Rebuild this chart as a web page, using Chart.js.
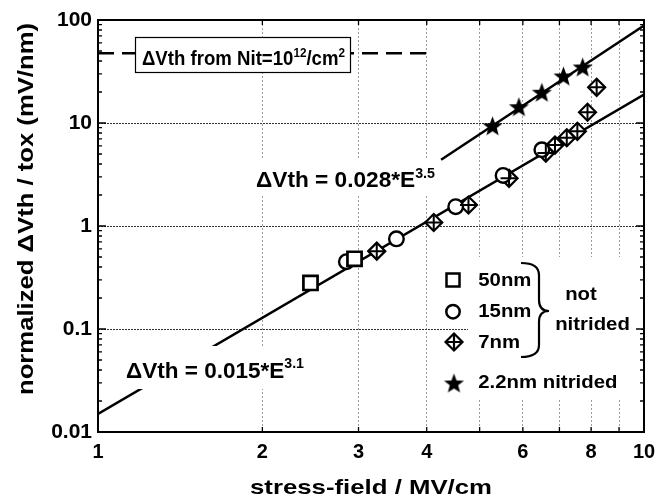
<!DOCTYPE html>
<html>
<head>
<meta charset="utf-8">
<script src="https://cdn.jsdelivr.net/npm/chart.js@4/dist/chart.umd.min.js"></script>
<style>
  body { margin: 0; background: #fff; }
  canvas { display: block; }
</style>
</head>
<body>
<canvas id="c" width="670" height="499"></canvas>
<script>
// ---- data (stress field MV/cm, dVth/tox mV/nm) ----
var sq50X = [2.45, 2.95];
var sq50Y = [0.28, 0.48];
var c15X = [2.85, 3.52, 4.52, 5.52, 6.5];
var c15Y = [0.45, 0.75, 1.54, 3.1, 5.5];
var d7X = [3.24, 4.12, 4.77, 5.66, 6.61, 6.87, 7.22, 7.55, 7.88, 8.19];
var d7Y = [0.57, 1.08, 1.6, 2.9, 5.1, 6.1, 7.2, 8.3, 12.7, 22.2];
var n22X = [5.28, 5.9, 6.5, 7.12, 7.72];
var n22Y = [9.4, 14.4, 19.9, 28.6, 35];
// fit lines (end points) and Nit reference level
var fitAX = [1, 10];
var fitAY = [0.015, 18.9];
var fitBX = [4.25, 10];
var fitBY = [4.4, 88.5];
var nitX = [1, 4.02];
var nitY = [47.5, 47.5];
// tick labels
var xTickLabels = [1, 2, 3, 4, 6, 8, 10];
var yTickLabels = [0.01, 0.1, 1, 10, 100];

var FONT = '"Liberation Sans", Arial, sans-serif';

function pts(xs, ys) {
  return xs.map(function (x, i) { return {x: x, y: ys[i]}; });
}

// filled five point star
function makeStar(R) {
  var s = Math.ceil(2 * R + 4);
  var cv = document.createElement('canvas');
  cv.width = s; cv.height = s;
  var g = cv.getContext('2d');
  var c = s / 2, r = R * 0.42;
  g.fillStyle = '#000';
  g.beginPath();
  for (var i = 0; i < 10; i++) {
    var a = -Math.PI / 2 + i * Math.PI / 5;
    var rr = i % 2 ? r : R;
    var px = c + rr * Math.cos(a), py = c + 1 + rr * Math.sin(a);
    if (i === 0) g.moveTo(px, py); else g.lineTo(px, py);
  }
  g.closePath(); g.fill();
  return cv;
}

var starImg = makeStar(10.5);

// text with optional superscripts, stretched to a width
function richText(ctx, parts, x, y, size, opts) {
  opts = opts || {};
  var fnt = function (s) { return 'bold ' + s + 'px ' + FONT; };
  var w = 0;
  parts.forEach(function (p) {
    ctx.font = fnt(p[1] ? size * 0.63 : size);
    w += ctx.measureText(p[0]).width;
  });
  var sx = opts.width ? opts.width / w : (opts.sx || 1);
  ctx.save();
  ctx.translate(x, y);
  if (opts.rotate) ctx.rotate(opts.rotate);
  ctx.scale(sx, 1);
  var cx = opts.align === 'center' ? -w / 2 : 0;
  ctx.fillStyle = '#000';
  ctx.textBaseline = 'alphabetic';
  ctx.textAlign = 'left';
  parts.forEach(function (p) {
    var s = p[1] ? size * 0.63 : size;
    ctx.font = fnt(s);
    ctx.fillText(p[0], cx, p[1] ? -size * 0.41 : 0);
    cx += ctx.measureText(p[0]).width;
  });
  ctx.restore();
}

function isDecade(v) {
  var l = Math.log10(v);
  return Math.abs(l - Math.round(l)) < 1e-6;
}

var decor = {
  id: 'decor',
  afterDatasetsDraw: function (chart) {
    var ctx = chart.ctx;
    var a = chart.chartArea;
    var xs = chart.scales.x, ys = chart.scales.y;
    ctx.save();
    // white backgrounds
    ctx.fillStyle = '#fff';
    ctx.fillRect(250, 158, 190, 37);
    ctx.fillRect(120, 346, 190, 43);
    ctx.fillRect(468, 257, 172, 143);
    ctx.fillRect(135, 37, 215, 35);
    ctx.lineWidth = 1.2; ctx.strokeStyle = '#000';
    ctx.strokeRect(135.5, 37.5, 215, 35);

    richText(ctx, [['\u0394Vth from Nit=10'], ['12', 1], ['/cm'], ['2', 1]], 142, 64.5, 19.5, {width: 203});
    richText(ctx, [['\u0394Vth = 0.028*E'], ['3.5', 1]], 256, 187.3, 22.5, {width: 179});
    richText(ctx, [['\u0394Vth = 0.015*E'], ['3.1', 1]], 126, 377.7, 22.5, {width: 178});

    // legend
    ctx.lineWidth = 2.5; ctx.strokeStyle = '#000'; ctx.fillStyle = '#fff';
    ctx.fillRect(446.5, 273.5, 13, 13); ctx.strokeRect(446.5, 273.5, 13, 13);
    ctx.beginPath(); ctx.arc(453, 311.7, 6.7, 0, Math.PI * 2); ctx.fill(); ctx.stroke();
    ctx.lineWidth = 2.2;
    ctx.beginPath();
    ctx.moveTo(454, 333.5); ctx.lineTo(462.5, 342); ctx.lineTo(454, 350.5); ctx.lineTo(445.5, 342); ctx.closePath();
    ctx.fill(); ctx.stroke();
    ctx.beginPath();
    ctx.moveTo(445.5, 342); ctx.lineTo(462.5, 342); ctx.moveTo(454, 333.5); ctx.lineTo(454, 350.5);
    ctx.stroke();
    ctx.drawImage(starImg, 454 - starImg.width / 2, 383 - starImg.height / 2);
    richText(ctx, [['50nm']], 478.3, 286, 18.5, {sx: 1.1});
    richText(ctx, [['15nm']], 478.3, 316.7, 18.5, {sx: 1.1});
    richText(ctx, [['7nm']], 478.3, 348.3, 18.5, {sx: 1.1});
    richText(ctx, [['2.2nm nitrided']], 478.3, 388.3, 18.5, {sx: 1.1});
    richText(ctx, [['not']], 581, 300, 18.5, {sx: 1.1, align: 'center'});
    richText(ctx, [['nitrided']], 592.5, 330, 18.5, {sx: 1.1, align: 'center'});
    // brace
    ctx.lineWidth = 2.2;
    ctx.beginPath();
    ctx.moveTo(521, 263);
    ctx.quadraticCurveTo(539, 263, 539, 275);
    ctx.lineTo(539, 300);
    ctx.quadraticCurveTo(539, 311, 549, 311);
    ctx.quadraticCurveTo(539, 311, 539, 322);
    ctx.lineTo(539, 345);
    ctx.quadraticCurveTo(539, 357, 521, 357);
    ctx.stroke();

    // axis titles
    richText(ctx, [['stress-field / MV/cm']], 371, 494, 20.5, {width: 242, align: 'center'});
    richText(ctx, [['normalized \u0394Vth / tox (mV/nm)']], 33, 209, 22.5, {width: 372, align: 'center', rotate: -Math.PI / 2});

    // frame and inward ticks
    ctx.strokeStyle = '#000';
    ctx.lineWidth = 2;
    ctx.strokeRect(a.left, a.top, a.right - a.left, a.bottom - a.top);
    ctx.lineWidth = 1.3;
    ctx.beginPath();
    for (var m = 2; m <= 9; m++) {
      var px = xs.getPixelForValue(m);
      ctx.moveTo(px, a.bottom); ctx.lineTo(px, a.bottom - 5);
      ctx.moveTo(px, a.top); ctx.lineTo(px, a.top + 5);
    }
    for (var d = 0.01; d < 99; d *= 10) {
      for (var k = 1; k <= 9; k++) {
        var py = ys.getPixelForValue(d * k);
        var len = k === 1 ? 8 : 4;
        ctx.moveTo(a.left, py); ctx.lineTo(a.left + len, py);
        ctx.moveTo(a.right, py); ctx.lineTo(a.right - len, py);
      }
    }
    ctx.stroke();
    ctx.restore();
  }
};

new Chart(document.getElementById('c'), {
  type: 'scatter',
  data: {
    datasets: [
      {label: 'fit 3.1', data: pts(fitAX, fitAY), showLine: true, fill: false, borderColor: '#000', borderWidth: 2.5, pointRadius: 0, order: 5},
      {label: 'fit 3.5', data: pts(fitBX, fitBY), showLine: true, fill: false, borderColor: '#000', borderWidth: 2.5, pointRadius: 0, order: 5},
      {label: 'Nit', data: pts(nitX, nitY), showLine: true, fill: false, borderColor: '#000', borderWidth: 2.5, borderDash: [16, 8], pointRadius: 0, order: 5},
      {label: '50nm', data: pts(sq50X, sq50Y), pointStyle: 'rect', pointRadius: 10, borderWidth: 2.7, borderColor: '#000', backgroundColor: '#fff', order: 2},
      {label: '15nm', data: pts(c15X, c15Y), pointStyle: 'circle', pointRadius: 7.3, borderWidth: 2.4, borderColor: '#000', backgroundColor: '#fff', order: 2},
      {label: '7nm', data: pts(d7X, d7Y), pointStyle: 'rectRot', pointRadius: 8.5, borderWidth: 2.2, borderColor: '#000', backgroundColor: '#fff', order: 2},
      {label: '7nm cross', data: pts(d7X, d7Y), pointStyle: 'cross', pointRadius: 8.5, borderWidth: 2, borderColor: '#000', order: 1},
      {label: '2.2nm nitrided', data: pts(n22X, n22Y), pointStyle: starImg, pointRadius: 9, order: 1}
    ]
  },
  options: {
    responsive: false,
    devicePixelRatio: 1,
    animation: false,
    layout: {padding: {top: 20, right: 26, left: 0, bottom: 0}},
    plugins: {legend: {display: false}, tooltip: {enabled: false}},
    scales: {
      x: {
        type: 'logarithmic', position: 'bottom', min: 1, max: 10,
        afterFit: function (s) { s.height = 67; },
        grid: {
          drawTicks: false, lineWidth: 1,
          color: function (c) {
            var v = c.tick ? c.tick.value : 0;
            var whole = Math.abs(v - Math.round(v)) < 1e-6;
            return (whole && v > 1.5 && v < 9.5) ? '#9a9a9a' : 'rgba(0,0,0,0)';
          }
        },
        border: {display: false, dash: [2, 2]},
        ticks: {
          autoSkip: false, maxRotation: 0, padding: 8, color: '#000',
          font: {family: FONT, size: 20, weight: 'bold'},
          callback: function (v) {
            var r = Math.round(v * 1000) / 1000;
            return xTickLabels.indexOf(r) >= 0 ? String(r) : '';
          }
        }
      },
      y: {
        type: 'logarithmic', position: 'left', min: 0.01, max: 100,
        afterFit: function (s) { s.width = 98; },
        grid: {
          drawTicks: false, lineWidth: 1,
          color: function (c) {
            var v = c.tick ? c.tick.value : 0;
            return (isDecade(v) && v > 0.05 && v < 50) ? '#333' : 'rgba(0,0,0,0)';
          }
        },
        border: {display: false, dash: [2, 1]},
        ticks: {
          autoSkip: false, padding: 6, color: '#000',
          font: {family: FONT, size: 21, weight: 'bold'},
          callback: function (v) {
            for (var i = 0; i < yTickLabels.length; i++) {
              if (Math.abs(v / yTickLabels[i] - 1) < 1e-6) return String(yTickLabels[i]);
            }
            return '';
          }
        }
      }
    }
  },
  plugins: [decor]
});
</script>
</body>
</html>
